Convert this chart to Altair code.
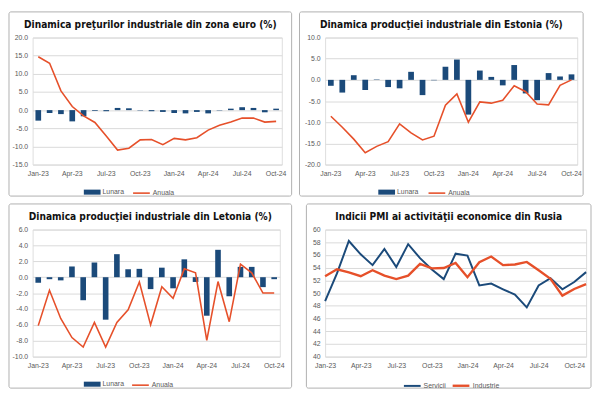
import altair as alt
import pandas as pd

# ---------------- data ----------------
months22 = ["Jan-23", "Feb-23", "Mar-23", "Apr-23", "May-23", "Jun-23", "Jul-23", "Aug-23",
            "Sep-23", "Oct-23", "Nov-23", "Dec-23", "Jan-24", "Feb-24", "Mar-24", "Apr-24",
            "May-24", "Jun-24", "Jul-24", "Aug-24", "Sep-24", "Oct-24"]
months23 = months22 + ["Nov-24"]
tick_months = ["Jan-23", "Apr-23", "Jul-23", "Oct-23", "Jan-24", "Apr-24", "Jul-24", "Oct-24"]

# Euro zone industrial producer prices (%)
ez_lunara = [-2.9, -0.8, -1.1, -3.1, -1.7, -0.2, -0.3, 0.6, 0.5, -0.1, -0.3, -0.5,
             -0.8, -0.9, -0.5, -0.9, -0.1, 0.4, 0.8, 0.6, -0.6, 0.4]
ez_anuala = [14.7, 12.9, 5.3, 1.0, -1.6, -3.4, -7.1, -11.0, -10.5, -8.2, -8.1, -9.5,
             -7.8, -8.2, -7.6, -5.5, -4.2, -3.3, -2.2, -2.2, -3.3, -3.1]

# Estonia industrial production (%)
ee_lunara = [-1.4, -3.0, 1.1, -2.4, 0.1, -1.7, -2.0, 1.9, -3.6, -0.1, 3.1, 4.8,
             -8.2, 2.2, 0.7, -1.3, 3.5, -3.2, -4.8, 1.6, 0.8, 1.3]
ee_anuala = [-8.6, -11.2, -14.0, -17.2, -15.7, -14.6, -10.4, -12.5, -14.2, -13.3, -6.0, -3.3,
             -10.0, -5.2, -5.5, -4.8, -1.4, -2.8, -5.7, -5.9, -1.3, 0.0]

# Latvia industrial production (%)
lv_lunara = [-0.7, -0.25, -0.4, 1.35, -2.9, 1.85, -5.35, 2.9, 1.0, 1.05, -1.5, 1.2,
             -1.4, 2.25, -0.6, -4.85, 3.45, -2.4, 1.3, 1.3, -1.25, -0.25]
lv_anuala = [-6.1, -1.65, -5.2, -7.6, -8.8, -5.7, -8.8, -5.7, -4.1, -0.6, -6.0, -1.2,
             -2.65, 1.05, 0.55, -7.95, -0.55, -5.6, 1.65, 0.55, -2.0, -2.0]

# Russia PMI
ru_servicii = [48.75, 53.1, 58.2, 56.1, 54.4, 56.95, 54.1, 57.7, 55.5, 53.7, 52.2, 56.2,
               55.9, 51.2, 51.5, 50.6, 49.75, 47.75, 51.2, 52.35, 50.6, 51.75, 53.3]
ru_industrie = [52.65, 53.75, 53.25, 52.65, 53.6, 52.75, 52.2, 52.75, 54.6, 53.9, 53.95, 54.75,
                52.5, 54.85, 55.75, 54.4, 54.5, 54.9, 53.6, 52.25, 49.6, 50.65, 51.4]

titles = [
    "Dinamica preţurilor industriale din zona euro (%)",
    "Dinamica producţiei industriale din Estonia (%)",
    "Dinamica producţiei industriale din Letonia (%)",
    "Indicii PMI ai activităţii economice din Rusia",
]

# ---------------- style ----------------
NAVY = "#1b4a7a"
RED = "#e6502a"
GRID = "#d9d9d9"
BOX = "#b0b0b0"
LABEL = "#595959"
FONT = "Liberation Sans, Arial, sans-serif"
TFONT = "DejaVu Sans Condensed, sans-serif"
H = 129
TOP = 26
BOTTOM = 32
BAR_PATH = "M-1,-0.3L1,-0.3L1,0.3L-1,0.3Z"


def x_axis():
    return alt.Axis(values=tick_months, labelAngle=0, ticks=False, tickSize=0, domain=False,
                    grid=False, labelPadding=5, labelFontSize=7, labelColor=LABEL,
                    labelFont=FONT, labelOverlap=False, title=None)


def y_axis(vals, fmt):
    return alt.Axis(values=vals, ticks=False, tickSize=0, domain=False, grid=True,
                    gridColor=GRID, labelPadding=5, labelFontSize=7, labelColor=LABEL,
                    labelFont=FONT,
                    labelExpr="replace(format(datum.value, '%s'), '\u2212', '-')" % fmt,
                    title=None)


def legend(x, **kw):
    base = dict(orient="none", legendX=x, legendY=H + 19.5, title=None, offset=0,
                symbolSize=289, labelFontSize=7, labelFont=FONT, labelColor=LABEL,
                labelOffset=2, padding=0)
    base.update(kw)
    return alt.Legend(**base)


def frame(W, left, right):
    box = alt.Chart(pd.DataFrame({"b": [0]})).mark_rect(
        fill="transparent", stroke=BOX, strokeWidth=1, cornerRadius=2
    ).encode(x=alt.value(-left), x2=alt.value(W + right),
             y=alt.value(-TOP), y2=alt.value(H + BOTTOM))
    return box


def title_layer(text, cx):
    return alt.Chart(pd.DataFrame({"t": [text]})).mark_text(
        font=TFONT, fontSize=10.3, fontWeight="bold", color="#111111",
        align="center", baseline="middle"
    ).encode(x=alt.value(cx), y=alt.value(-13), text="t:N")


def bar_line_panel(title, lunara, anuala, ymin, ymax, ystep, W, left, right, lx_fill, lx_line):
    df = pd.DataFrame({"luna": months22, "lunara": lunara, "anuala": anuala})
    vals = list(range(ymin, ymax + 1, ystep))
    yscale = alt.Scale(domain=[ymin, ymax], nice=False)
    xenc = alt.X("luna:N", sort=months22,
                 scale=alt.Scale(paddingInner=0.5, paddingOuter=0.25), axis=x_axis())
    bars = alt.Chart(df).transform_calculate(serie="'Lunara'").mark_bar().encode(
        x=xenc,
        y=alt.Y("lunara:Q", scale=yscale, axis=y_axis(vals, ".1f")),
        y2=alt.datum(0),
        fill=alt.Fill("serie:N", scale=alt.Scale(domain=["Lunara"], range=[NAVY]),
                      legend=legend(lx_fill, symbolType=BAR_PATH, symbolStrokeWidth=0)),
    )
    line = alt.Chart(df).transform_calculate(serie2="'Anuala'").mark_line(strokeWidth=1.6).encode(
        x=xenc,
        y=alt.Y("anuala:Q", scale=yscale, axis=y_axis(vals, ".1f")),
        stroke=alt.Stroke("serie2:N", scale=alt.Scale(domain=["Anuala"], range=[RED]),
                          legend=legend(lx_line, symbolType="stroke", symbolStrokeWidth=1.6)),
    )
    cx = (W + right - left) / 2
    return alt.layer(frame(W, left, right), bars, line, title_layer(title, cx)).properties(
        width=W, height=H)


p1 = bar_line_panel(titles[0], ez_lunara, ez_anuala, -15, 20, 5, 253, 24, 10, 52, 101)
p2 = bar_line_panel(titles[1], ee_lunara, ee_anuala, -20, 10, 5, 256, 26, 6, 54, 104)
p3 = bar_line_panel(titles[2], lv_lunara, lv_anuala, -10, 6, 2, 251, 24, 12, 52, 100)

# Russia PMI panel
W4, L4, R4 = 265, 19, 5
df4 = pd.DataFrame({
    "luna": months23 + months23,
    "valoare": ru_servicii + ru_industrie,
    "serie": ["Servicii"] * len(months23) + ["Industrie"] * len(months23),
})
pmi_lines = alt.Chart(df4).mark_line().encode(
    x=alt.X("luna:N", sort=months23, scale=alt.Scale(type="point", padding=0), axis=x_axis()),
    y=alt.Y("valoare:Q", scale=alt.Scale(domain=[40, 60], nice=False, zero=False),
            axis=y_axis(list(range(40, 61, 2)), "d")),
    stroke=alt.Stroke("serie:N", scale=alt.Scale(domain=["Servicii", "Industrie"], range=[NAVY, RED]),
                      legend=legend(79, direction="horizontal", symbolType="stroke",
                                    symbolStrokeWidth=2, columnPadding=1)),
    strokeWidth=alt.StrokeWidth("serie:N", scale=alt.Scale(domain=["Servicii", "Industrie"], range=[2, 2.4]),
                                legend=None),
)
p4 = alt.layer(frame(W4, L4, R4), pmi_lines, title_layer(titles[3], (W4 + R4 - L4) / 2)).properties(
    width=W4, height=H)

chart = alt.concat(p1, p2, p3, p4, columns=2, spacing=6).resolve_scale(
    x="independent", y="independent", fill="independent", stroke="independent",
    strokeWidth="independent"
).resolve_legend(fill="independent", stroke="independent").resolve_axis(
    x="independent", y="independent"
).properties(padding=0).configure_view(stroke=GRID).configure(background="white")

chart.save("out.html", embed_options={"renderer": "svg", "actions": False})
